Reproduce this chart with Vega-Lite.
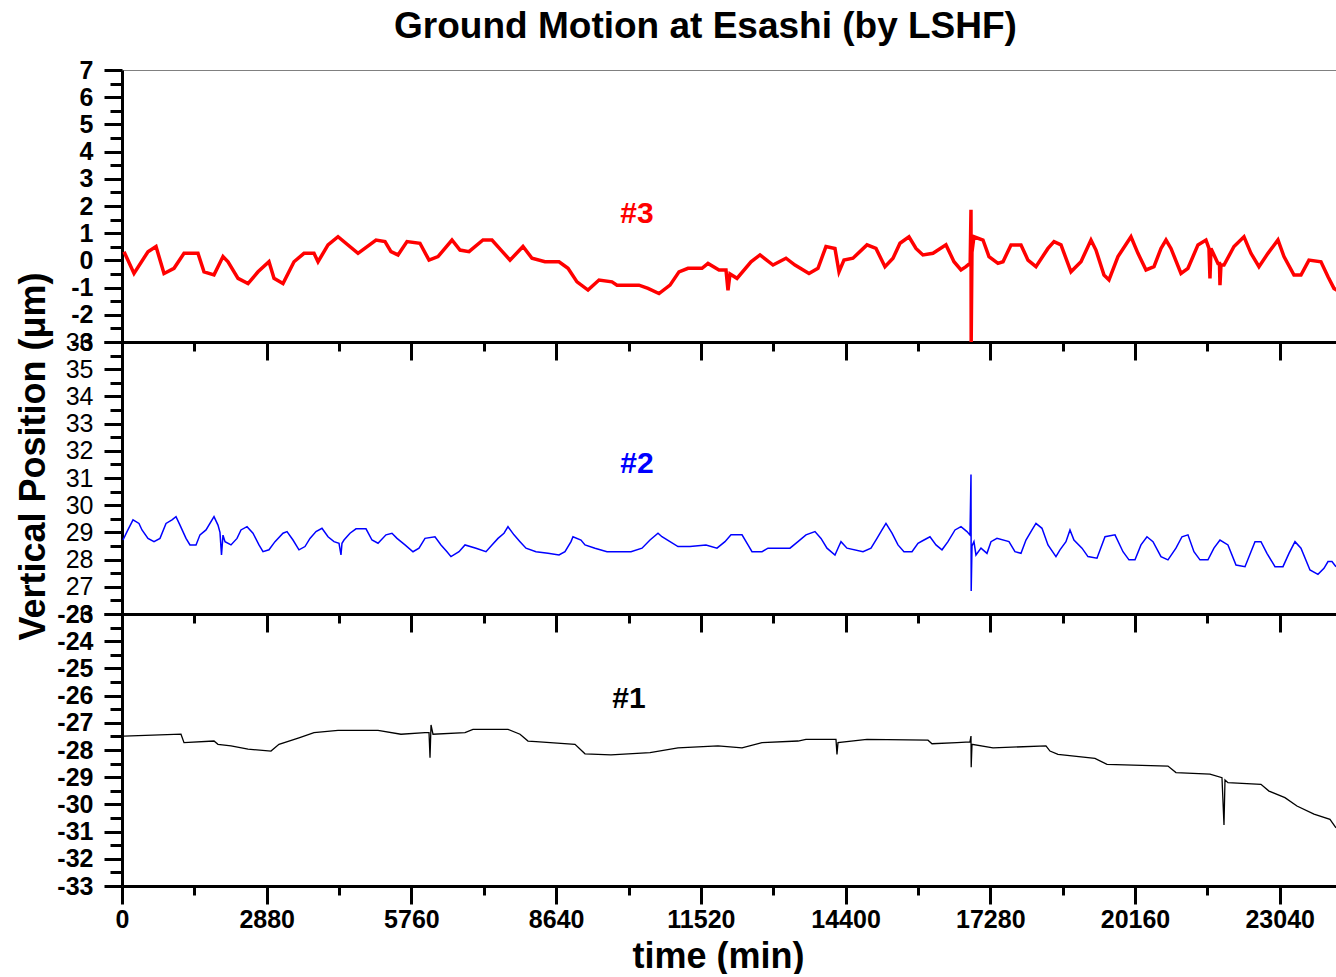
{
  "$schema": "https://vega.github.io/schema/vega-lite/v6.json",
  "background": "white",
  "padding": {"left": 14, "top": 8, "right": 0, "bottom": 0},
  "spacing": 0,
  "bounds": "flush",
  "title": {"text": "Ground Motion at Esashi (by LSHF)", "font": "Liberation Sans", "fontSize": 37, "fontWeight": "bold", "color": "black", "anchor": "middle", "offset": 12, "dx": 26},
  "config": {
    "font": "Liberation Sans",
    "view": {"stroke": null},
    "axis": {"grid": false, "domainColor": "black", "domainWidth": 3, "tickColor": "black", "tickWidth": 3, "labelColor": "black", "labelFont": "Liberation Sans", "labelFontSize": 25, "titleColor": "black", "titleFont": "Liberation Sans", "titleFontWeight": "bold", "labelOverlap": false, "labelFlush": false, "labelBound": false, "tickCount": 100}
  },
  "datasets": {
    "s3": [
      {"t":40,"v":0.32},{"t":239,"v":-0.48},{"t":517,"v":0.32},{"t":677,"v":0.51},{"t":836,"v":-0.48},{"t":1035,"v":-0.29},{"t":1234,"v":0.26},{"t":1512,"v":0.26},{"t":1632,"v":-0.42},{"t":1831,"v":-0.53},{"t":2010,"v":0.14},{"t":2110,"v":-0.05},{"t":2309,"v":-0.66},{"t":2508,"v":-0.85},{"t":2707,"v":-0.42},{"t":2925,"v":-0.05},{"t":3025,"v":-0.66},{"t":3204,"v":-0.85},{"t":3423,"v":-0.05},{"t":3622,"v":0.26},{"t":3821,"v":0.26},{"t":3901,"v":-0.05},{"t":4100,"v":0.57},{"t":4299,"v":0.87},{"t":4697,"v":0.26},{"t":5055,"v":0.75},{"t":5234,"v":0.69},{"t":5353,"v":0.32},{"t":5493,"v":0.2},{"t":5672,"v":0.69},{"t":5930,"v":0.63},{"t":6110,"v":0.01},{"t":6289,"v":0.14},{"t":6567,"v":0.75},{"t":6727,"v":0.38},{"t":6906,"v":0.32},{"t":7184,"v":0.75},{"t":7363,"v":0.75},{"t":7543,"v":0.38},{"t":7722,"v":0.01},{"t":7980,"v":0.51},{"t":8159,"v":0.08},{"t":8418,"v":-0.05},{"t":8697,"v":-0.05},{"t":8876,"v":-0.29},{"t":9055,"v":-0.79},{"t":9274,"v":-1.09},{"t":9493,"v":-0.72},{"t":9751,"v":-0.79},{"t":9851,"v":-0.91},{"t":10289,"v":-0.91},{"t":10468,"v":-1.03},{"t":10687,"v":-1.22},{"t":10906,"v":-0.91},{"t":11085,"v":-0.42},{"t":11264,"v":-0.29},{"t":11543,"v":-0.29},{"t":11662,"v":-0.11},{"t":11881,"v":-0.35},{"t":12020,"v":-0.35},{"t":12060,"v":-1.1},{"t":12100,"v":-0.5},{"t":12239,"v":-0.66},{"t":12518,"v":-0.05},{"t":12697,"v":0.2},{"t":12956,"v":-0.17},{"t":13214,"v":0.08},{"t":13393,"v":-0.17},{"t":13672,"v":-0.48},{"t":13851,"v":-0.29},{"t":14010,"v":0.51},{"t":14189,"v":0.44},{"t":14269,"v":-0.42},{"t":14368,"v":0.01},{"t":14547,"v":0.08},{"t":14826,"v":0.57},{"t":15005,"v":0.44},{"t":15184,"v":-0.23},{"t":15344,"v":0.08},{"t":15483,"v":0.63},{"t":15662,"v":0.87},{"t":15801,"v":0.44},{"t":15940,"v":0.2},{"t":16140,"v":0.26},{"t":16398,"v":0.57},{"t":16558,"v":-0.05},{"t":16697,"v":-0.35},{"t":16796,"v":-0.23},{"t":16880,"v":-0.1},{"t":16896,"v":1.86},{"t":16900,"v":-3.0},{"t":16915,"v":0.3},{"t":16955,"v":0.87},{"t":17135,"v":0.75},{"t":17254,"v":0.14},{"t":17433,"v":-0.11},{"t":17533,"v":-0.05},{"t":17692,"v":0.57},{"t":17891,"v":0.57},{"t":18030,"v":0.01},{"t":18189,"v":-0.23},{"t":18428,"v":0.44},{"t":18548,"v":0.69},{"t":18687,"v":0.57},{"t":18886,"v":-0.42},{"t":19085,"v":-0.05},{"t":19284,"v":0.75},{"t":19383,"v":0.38},{"t":19543,"v":-0.54},{"t":19642,"v":-0.72},{"t":19821,"v":0.14},{"t":20080,"v":0.87},{"t":20219,"v":0.26},{"t":20379,"v":-0.35},{"t":20538,"v":-0.23},{"t":20677,"v":0.44},{"t":20777,"v":0.75},{"t":20876,"v":0.44},{"t":21075,"v":-0.48},{"t":21214,"v":-0.29},{"t":21413,"v":0.57},{"t":21572,"v":0.75},{"t":21632,"v":0.44},{"t":21652,"v":-0.66},{"t":21672,"v":0.44},{"t":21811,"v":-0.11},{"t":21841,"v":-0.11},{"t":21851,"v":-0.91},{"t":21871,"v":-0.17},{"t":21931,"v":-0.17},{"t":22130,"v":0.51},{"t":22329,"v":0.87},{"t":22468,"v":0.26},{"t":22627,"v":-0.23},{"t":22806,"v":0.26},{"t":23005,"v":0.75},{"t":23125,"v":0.14},{"t":23324,"v":-0.54},{"t":23463,"v":-0.54},{"t":23622,"v":0.01},{"t":23861,"v":-0.05},{"t":24001,"v":-0.6},{"t":24120,"v":-1.03},{"t":24180,"v":-1.1}
    ],
    "s2": [
      {"t":20,"v":28.72},{"t":100,"v":29.03},{"t":219,"v":29.46},{"t":338,"v":29.33},{"t":398,"v":29.09},{"t":517,"v":28.78},{"t":637,"v":28.66},{"t":756,"v":28.78},{"t":876,"v":29.33},{"t":995,"v":29.46},{"t":1075,"v":29.58},{"t":1154,"v":29.27},{"t":1274,"v":28.78},{"t":1353,"v":28.54},{"t":1473,"v":28.54},{"t":1552,"v":28.91},{"t":1672,"v":29.09},{"t":1831,"v":29.58},{"t":1910,"v":29.27},{"t":1950,"v":29.0},{"t":1980,"v":28.17},{"t":2010,"v":28.9},{"t":2050,"v":28.66},{"t":2169,"v":28.54},{"t":2289,"v":28.78},{"t":2368,"v":29.09},{"t":2488,"v":29.21},{"t":2607,"v":28.97},{"t":2726,"v":28.54},{"t":2806,"v":28.29},{"t":2925,"v":28.36},{"t":3045,"v":28.66},{"t":3204,"v":28.97},{"t":3284,"v":29.03},{"t":3403,"v":28.72},{"t":3522,"v":28.36},{"t":3642,"v":28.48},{"t":3741,"v":28.78},{"t":3861,"v":29.03},{"t":3980,"v":29.15},{"t":4100,"v":28.84},{"t":4219,"v":28.66},{"t":4319,"v":28.6},{"t":4358,"v":28.17},{"t":4378,"v":28.6},{"t":4418,"v":28.72},{"t":4537,"v":28.97},{"t":4657,"v":29.13},{"t":4856,"v":29.13},{"t":4975,"v":28.72},{"t":5095,"v":28.6},{"t":5254,"v":28.91},{"t":5373,"v":28.97},{"t":5473,"v":28.78},{"t":5632,"v":28.54},{"t":5791,"v":28.29},{"t":5911,"v":28.42},{"t":6030,"v":28.78},{"t":6229,"v":28.84},{"t":6348,"v":28.54},{"t":6468,"v":28.29},{"t":6547,"v":28.11},{"t":6707,"v":28.29},{"t":6826,"v":28.54},{"t":7045,"v":28.42},{"t":7244,"v":28.29},{"t":7363,"v":28.54},{"t":7483,"v":28.78},{"t":7602,"v":28.97},{"t":7682,"v":29.21},{"t":7801,"v":28.91},{"t":7921,"v":28.66},{"t":8040,"v":28.42},{"t":8239,"v":28.29},{"t":8478,"v":28.23},{"t":8697,"v":28.17},{"t":8816,"v":28.29},{"t":8936,"v":28.66},{"t":8975,"v":28.84},{"t":9134,"v":28.72},{"t":9214,"v":28.54},{"t":9413,"v":28.42},{"t":9652,"v":28.29},{"t":10130,"v":28.29},{"t":10349,"v":28.42},{"t":10508,"v":28.72},{"t":10667,"v":28.97},{"t":10746,"v":28.84},{"t":10906,"v":28.66},{"t":11065,"v":28.48},{"t":11304,"v":28.48},{"t":11622,"v":28.54},{"t":11841,"v":28.42},{"t":12000,"v":28.66},{"t":12120,"v":28.91},{"t":12339,"v":28.91},{"t":12458,"v":28.54},{"t":12538,"v":28.29},{"t":12737,"v":28.29},{"t":12856,"v":28.42},{"t":13294,"v":28.42},{"t":13453,"v":28.66},{"t":13612,"v":28.91},{"t":13791,"v":29.03},{"t":13911,"v":28.78},{"t":14030,"v":28.42},{"t":14189,"v":28.17},{"t":14269,"v":28.5},{"t":14309,"v":28.66},{"t":14428,"v":28.42},{"t":14747,"v":28.29},{"t":14906,"v":28.42},{"t":15025,"v":28.78},{"t":15125,"v":29.09},{"t":15204,"v":29.33},{"t":15324,"v":28.97},{"t":15443,"v":28.54},{"t":15562,"v":28.29},{"t":15722,"v":28.29},{"t":15841,"v":28.6},{"t":15960,"v":28.72},{"t":16080,"v":28.84},{"t":16199,"v":28.54},{"t":16319,"v":28.36},{"t":16438,"v":28.66},{"t":16578,"v":29.09},{"t":16697,"v":29.21},{"t":16816,"v":29.03},{"t":16876,"v":28.9},{"t":16896,"v":31.13},{"t":16900,"v":26.85},{"t":16916,"v":28.5},{"t":16955,"v":28.66},{"t":16995,"v":28.17},{"t":17095,"v":28.42},{"t":17214,"v":28.23},{"t":17294,"v":28.66},{"t":17413,"v":28.78},{"t":17652,"v":28.66},{"t":17771,"v":28.29},{"t":17891,"v":28.23},{"t":17990,"v":28.72},{"t":18110,"v":29.09},{"t":18189,"v":29.33},{"t":18309,"v":29.15},{"t":18428,"v":28.54},{"t":18587,"v":28.11},{"t":18667,"v":28.36},{"t":18786,"v":28.66},{"t":18866,"v":29.09},{"t":18945,"v":28.72},{"t":19105,"v":28.42},{"t":19224,"v":28.11},{"t":19403,"v":28.05},{"t":19563,"v":28.84},{"t":19762,"v":28.91},{"t":19921,"v":28.29},{"t":20040,"v":27.99},{"t":20160,"v":27.99},{"t":20279,"v":28.54},{"t":20398,"v":28.84},{"t":20518,"v":28.66},{"t":20677,"v":28.11},{"t":20816,"v":27.99},{"t":20975,"v":28.42},{"t":21095,"v":28.84},{"t":21214,"v":28.91},{"t":21333,"v":28.29},{"t":21453,"v":27.99},{"t":21612,"v":27.99},{"t":21731,"v":28.42},{"t":21851,"v":28.72},{"t":22010,"v":28.54},{"t":22170,"v":27.8},{"t":22349,"v":27.74},{"t":22468,"v":28.29},{"t":22548,"v":28.66},{"t":22667,"v":28.66},{"t":22786,"v":28.23},{"t":22946,"v":27.74},{"t":23105,"v":27.74},{"t":23224,"v":28.23},{"t":23344,"v":28.66},{"t":23463,"v":28.42},{"t":23642,"v":27.62},{"t":23801,"v":27.46},{"t":23921,"v":27.68},{"t":24001,"v":27.93},{"t":24080,"v":27.93},{"t":24160,"v":27.74}
    ],
    "s1": [
      {"t":40,"v":-27.49},{"t":1174,"v":-27.42},{"t":1234,"v":-27.73},{"t":1831,"v":-27.67},{"t":1910,"v":-27.79},{"t":2169,"v":-27.85},{"t":2508,"v":-27.97},{"t":2965,"v":-28.04},{"t":3124,"v":-27.79},{"t":3522,"v":-27.55},{"t":3821,"v":-27.36},{"t":4299,"v":-27.28},{"t":5095,"v":-27.28},{"t":5552,"v":-27.42},{"t":6030,"v":-27.36},{"t":6110,"v":-27.36},{"t":6130,"v":-28.28},{"t":6150,"v":-27.08},{"t":6189,"v":-27.42},{"t":6826,"v":-27.36},{"t":6985,"v":-27.24},{"t":7682,"v":-27.24},{"t":7921,"v":-27.42},{"t":8080,"v":-27.67},{"t":8239,"v":-27.69},{"t":9015,"v":-27.79},{"t":9214,"v":-28.14},{"t":9731,"v":-28.18},{"t":10508,"v":-28.1},{"t":11065,"v":-27.92},{"t":11861,"v":-27.85},{"t":12339,"v":-27.92},{"t":12737,"v":-27.73},{"t":13453,"v":-27.67},{"t":13612,"v":-27.61},{"t":14209,"v":-27.61},{"t":14229,"v":-28.16},{"t":14249,"v":-27.73},{"t":14826,"v":-27.61},{"t":16040,"v":-27.64},{"t":16120,"v":-27.77},{"t":16617,"v":-27.73},{"t":16876,"v":-27.7},{"t":16896,"v":-27.49},{"t":16900,"v":-28.63},{"t":16916,"v":-27.79},{"t":17334,"v":-27.92},{"t":18388,"v":-27.85},{"t":18468,"v":-28.04},{"t":18627,"v":-28.16},{"t":19363,"v":-28.31},{"t":19603,"v":-28.53},{"t":20816,"v":-28.59},{"t":20975,"v":-28.83},{"t":21652,"v":-28.89},{"t":21891,"v":-29.02},{"t":21931,"v":-30.76},{"t":21951,"v":-29.1},{"t":22010,"v":-29.2},{"t":22667,"v":-29.26},{"t":22826,"v":-29.51},{"t":23144,"v":-29.75},{"t":23383,"v":-30.06},{"t":23722,"v":-30.36},{"t":24040,"v":-30.55},{"t":24160,"v":-30.86}
    ]
  },
  "vconcat": [
    {
      "width": 1215, "height": 272,
      "layer": [
        {
          "data": {"name": "s3"},
          "mark": {"type": "line", "color": "#ff0000", "strokeWidth": 3.5},
          "encoding": {
            "x": {"field": "t", "type": "quantitative", "scale": {"domain": [0, 24180], "nice": false, "zero": false},
              "axis": {"orient": "bottom", "title": null, "values": [0,2880,5760,8640,11520,14400,17280,20160,23040], "labels": false, "tickSize": 18}},
            "y": {"field": "v", "type": "quantitative", "scale": {"domain": [-3, 7], "nice": false, "zero": false},
              "axis": {"orient": "left", "title": null, "values": [-3,-2,-1,0,1,2,3,4,5,6,7], "labelExpr": "'' + datum.value", "labelFontWeight": "bold", "labelPadding": 11, "tickSize": 18}}
          }
        },
        {
          "data": {"values": [{"t": 10249, "v": 1.71, "label": "#3"}]},
          "mark": {"type": "text", "color": "#ff0000", "font": "Liberation Sans", "fontSize": 30, "fontWeight": "bold", "align": "center", "baseline": "middle"},
          "encoding": {
            "x": {"field": "t", "type": "quantitative", "axis": {"orient": "bottom", "title": null, "values": [1440,4320,7200,10080,12960,15840,18720,21600], "labels": false, "domain": false, "tickSize": 9}},
            "y": {"field": "v", "type": "quantitative", "axis": {"orient": "left", "title": null, "values": [-2.5,-1.5,-0.5,0.5,1.5,2.5,3.5,4.5,5.5,6.5], "labels": false, "domain": false, "tickSize": 12}},
            "text": {"field": "label"}
          }
        },
        {
          "data": {"values": [{"t": 10249, "v": 1.71, "label": "#3"}]},
          "mark": {"type": "text", "opacity": 0, "fontSize": 30},
          "encoding": {
            "x": {"field": "t", "type": "quantitative", "axis": {"orient": "top", "title": null, "ticks": false, "labels": false, "domainColor": "#808080", "domainWidth": 1}},
            "y": {"field": "v", "type": "quantitative", "axis": null},
            "text": {"field": "label"}
          }
        }
      ],
      "resolve": {"axis": {"x": "independent", "y": "independent"}}
    },
    {
      "width": 1215, "height": 272,
      "layer": [
        {
          "data": {"name": "s2"},
          "mark": {"type": "line", "color": "#0000ff", "strokeWidth": 1.5},
          "encoding": {
            "x": {"field": "t", "type": "quantitative", "scale": {"domain": [0, 24180], "nice": false, "zero": false},
              "axis": {"orient": "bottom", "title": null, "values": [0,2880,5760,8640,11520,14400,17280,20160,23040], "labels": false, "tickSize": 18}},
            "y": {"field": "v", "type": "quantitative", "scale": {"domain": [26, 36], "nice": false, "zero": false},
              "axis": {"orient": "left", "title": "Vertical Position (μm)", "titleFontSize": 36, "titleX": -70, "titleY": 114, "titleBaseline": "bottom", "values": [26,27,28,29,30,31,32,33,34,35,36], "labelExpr": "'' + datum.value", "labelFontWeight": "normal", "labelPadding": 11, "tickSize": 18}}
          }
        },
        {
          "data": {"values": [{"t": 10249, "v": 31.51, "label": "#2"}]},
          "mark": {"type": "text", "color": "#0000ff", "font": "Liberation Sans", "fontSize": 30, "fontWeight": "bold", "align": "center", "baseline": "middle"},
          "encoding": {
            "x": {"field": "t", "type": "quantitative", "axis": {"orient": "bottom", "title": null, "values": [1440,4320,7200,10080,12960,15840,18720,21600], "labels": false, "domain": false, "tickSize": 9}},
            "y": {"field": "v", "type": "quantitative", "axis": {"orient": "left", "title": null, "values": [26.5,27.5,28.5,29.5,30.5,31.5,32.5,33.5,34.5,35.5], "labels": false, "domain": false, "tickSize": 12}},
            "text": {"field": "label"}
          }
        }
      ],
      "resolve": {"axis": {"x": "independent", "y": "independent"}}
    },
    {
      "width": 1215, "height": 272,
      "layer": [
        {
          "data": {"name": "s1"},
          "mark": {"type": "line", "color": "black", "strokeWidth": 1.3},
          "encoding": {
            "x": {"field": "t", "type": "quantitative", "scale": {"domain": [0, 24180], "nice": false, "zero": false},
              "axis": {"orient": "bottom", "title": "time (min)", "titleFontSize": 36, "titleX": 596, "titleY": 81, "titleBaseline": "alphabetic", "titleAlign": "center", "values": [0,2880,5760,8640,11520,14400,17280,20160,23040], "labelExpr": "'' + datum.value", "labelFontWeight": "bold", "labelFontSize": 25, "labelPadding": 3, "tickSize": 18}},
            "y": {"field": "v", "type": "quantitative", "scale": {"domain": [-33, -23], "nice": false, "zero": false},
              "axis": {"orient": "left", "title": null, "values": [-33,-32,-31,-30,-29,-28,-27,-26,-25,-24,-23], "labelExpr": "'' + datum.value", "labelFontWeight": "bold", "labelPadding": 11, "tickSize": 18}}
          }
        },
        {
          "data": {"values": [{"t": 10090, "v": -26.13, "label": "#1"}]},
          "mark": {"type": "text", "color": "black", "font": "Liberation Sans", "fontSize": 30, "fontWeight": "bold", "align": "center", "baseline": "middle"},
          "encoding": {
            "x": {"field": "t", "type": "quantitative", "axis": {"orient": "bottom", "title": null, "values": [1440,4320,7200,10080,12960,15840,18720,21600], "labels": false, "domain": false, "tickSize": 9}},
            "y": {"field": "v", "type": "quantitative", "axis": {"orient": "left", "title": null, "values": [-32.5,-31.5,-30.5,-29.5,-28.5,-27.5,-26.5,-25.5,-24.5,-23.5], "labels": false, "domain": false, "tickSize": 12}},
            "text": {"field": "label"}
          }
        }
      ],
      "resolve": {"axis": {"x": "independent", "y": "independent"}}
    }
  ]
}
